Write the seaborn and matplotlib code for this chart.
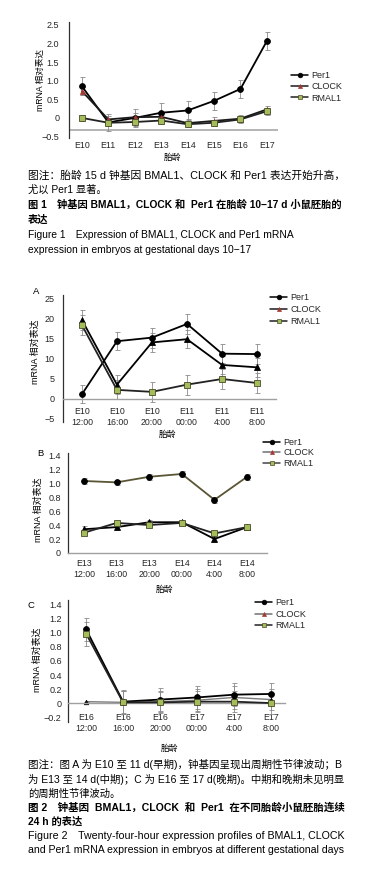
import numpy as np
import pandas as pd
import seaborn as sns
import matplotlib.pyplot as plt
from matplotlib.lines import Line2D

# ---- data ----
series = ['Per1', 'CLOCK', 'RMAL1']

days1 = ['E10', 'E11', 'E12', 'E13', 'E14', 'E15', 'E16', 'E17']
per1_1 = [0.85, -0.12, 0.0, 0.14, 0.20, 0.46, 0.78, 2.07]
clock_1 = [0.72, -0.04, 0.02, 0.03, -0.14, -0.08, -0.02, 0.23]
rmal1_1 = [0.0, -0.13, -0.11, -0.07, -0.17, -0.13, -0.04, 0.18]
per1_1_err = [0.24, 0.22, 0.25, 0.25, 0.25, 0.25, 0.25, 0.25]
clock_1_err = [0.1, 0.1, 0.1, 0.1, 0.1, 0.1, 0.1, 0.1]
rmal1_1_err = [0.08, 0.1, 0.1, 0.1, 0.08, 0.08, 0.1, 0.1]

labels_a = ['E10\n12:00', 'E10\n16:00', 'E10\n20:00', 'E11\n00:00', 'E11\n4:00', 'E11\n8:00']
per1_a = [1.1, 14.3, 15.2, 18.6, 11.2, 11.1]
clock_a = [19.6, 3.5, 14.0, 14.8, 8.4, 7.8]
rmal1_a = [18.3, 2.2, 1.7, 3.5, 4.9, 3.9]
per1_a_err = [2.2, 2.3, 2.5, 2.5, 2.4, 2.5]
clock_a_err = [2.4, 2.3, 2.3, 2.3, 2.3, 2.3]
rmal1_a_err = [2.5, 2.4, 2.4, 2.5, 2.5, 2.5]

labels_b = ['E13\n12:00', 'E13\n16:00', 'E13\n20:00', 'E14\n00:00', 'E14\n4:00', 'E14\n8:00']
per1_b = [1.03, 1.01, 1.09, 1.13, 0.76, 1.09]
clock_b = [0.34, 0.37, 0.44, 0.44, 0.20, 0.37]
rmal1_b = [0.29, 0.43, 0.40, 0.43, 0.28, 0.37]
per1_b_err = [0.04, 0.04, 0.04, 0.04, 0.04, 0.04]
clock_b_err = [0.04, 0.03, 0.03, 0.02, 0.03, 0.03]
rmal1_b_err = [0.02, 0.02, 0.02, 0.02, 0.02, 0.02]

labels_c = ['E16\n12:00', 'E16\n16:00', 'E16\n20:00', 'E17\n00:00', 'E17\n4:00', 'E17\n8:00']
per1_c = [1.05, 0.02, 0.05, 0.08, 0.12, 0.13]
clock_c = [0.02, 0.01, 0.02, 0.04, 0.08, 0.05]
rmal1_c = [0.99, 0.01, 0.01, 0.02, 0.02, 0.0]
per1_c_err = [0.16, 0.16, 0.16, 0.16, 0.16, 0.15]
clock_c_err = [0.0, 0.16, 0.15, 0.16, 0.16, 0.15]
rmal1_c_err = [0.17, 0.16, 0.15, 0.15, 0.15, 0.15]

# (text, weight, right edge of the justified line or None)
caption1 = [
    ('图注：胎龄 15 d 钟基因 BMAL1、CLOCK 和 Per1 表达开始升高，', 'normal', 343),
    ('尤以 Per1 显著。', 'normal', None),
    ('图 1　钟基因 BMAL1，CLOCK 和  Per1 在胎龄 10−17 d 小鼠胚胎的', 'bold', 340),
    ('表达', 'bold', None),
    ('Figure 1　Expression of BMAL1, CLOCK and Per1 mRNA', 'normal', None),
    ('expression in embryos at gestational days 10−17', 'normal', None),
]
caption2 = [
    ('图注：图 A 为 E10 至 11 d(早期)，钟基因呈现出周期性节律波动；B', 'normal', 343),
    ('为 E13 至 14 d(中期)；C 为 E16 至 17 d(晚期)。中期和晚期未见明显', 'normal', 343),
    ('的周期性节律波动。', 'normal', None),
    ('图 2　钟基因  BMAL1，CLOCK  和  Per1  在不同胎龄小鼠胚胎连续', 'bold', 343),
    ('24 h 的表达', 'bold', None),
    ('Figure 2　Twenty-four-hour expression profiles of BMAL1, CLOCK', 'normal', 343),
    ('and Per1 mRNA expression in embryos at different gestational days', 'normal', 345),
]

sns.set_theme(style='white')
fam = ['Liberation Sans', 'Noto Sans CJK SC', 'DejaVu Sans']
plt.rcParams['font.family'] = fam
plt.rcParams['axes.unicode_minus'] = True

W, H = 365, 874
fig = plt.figure(figsize=(W / 100, H / 100), dpi=100)
renderer = fig.canvas.get_renderer()


def add_ax(left, top, right, bottom):
    return fig.add_axes([left / W, 1 - bottom / H, (right - left) / W, (bottom - top) / H])


def ftext(x, y, s, **kw):
    kw.setdefault('va', 'center')
    kw.setdefault('ha', 'left')
    kw.setdefault('fontsize', 6.5)
    return fig.text(x / W, 1 - y / H, s, color='black', **kw)


def caption(lines, y0, step, base=7.4):
    y = y0
    for s, w, right in lines:
        t = ftext(28, y, s, fontweight=w, fontsize=base)
        if right is not None:
            width = t.get_window_extent(renderer).width
            t.set_fontsize(min(8.2, max(6.8, base * (right - 28) / width)))
        y += step


GREEN = '#a3bd5b'
RED = '#a33a32'


def draw(ax, vals, errs, styles):
    x = np.arange(len(vals[0]))
    for v, e, st in zip(vals, errs, styles):
        ax.errorbar(x, v, yerr=e, fmt='none', ecolor='#8a8a8a', elinewidth=0.6,
                    capsize=1.8, capthick=0.6, zorder=1)
        df = pd.DataFrame({'x': x, 'y': v})
        sns.lineplot(data=df, x='x', y='y', ax=ax, color=st['lc'], lw=st.get('lw', 1.3),
                     marker=st['m'], markersize=st['ms'], markerfacecolor=st['mfc'],
                     markeredgecolor=st['mec'], markeredgewidth=0.6, errorbar=None,
                     legend=False, zorder=st.get('z', 3))
    ax.set_xlabel('')
    ax.set_ylabel('')


def style_ax(ax, xlabels, yticks, yticklabels, ypad, xpad, base):
    for s in ['top', 'right']:
        ax.spines[s].set_visible(False)
    if base is not None:
        ax.spines['bottom'].set_position(('data', base))
    ax.spines['left'].set_color('#303030')
    ax.spines['left'].set_linewidth(0.9)
    ax.spines['bottom'].set_color('#a0a0a0')
    ax.spines['bottom'].set_linewidth(1.0)
    ax.set_xticks(np.arange(len(xlabels)))
    ax.set_xticklabels(xlabels, fontsize=6.3, linespacing=1.35)
    ax.set_yticks(yticks)
    ax.set_yticklabels(yticklabels, fontsize=6.5)
    ax.tick_params(axis='both', length=0)
    ax.tick_params(axis='y', pad=ypad)
    ax.tick_params(axis='x', pad=xpad)


def legend(ax, x, y, styles, spacing):
    hs = [Line2D([], [], color=st['lc'], lw=1.1, marker=st['m'], markersize=st['ms'] * 0.8,
                 markerfacecolor=st['mfc'], markeredgecolor=st['mec'], markeredgewidth=0.5)
          for st in styles]
    ax.legend(hs, series, loc='upper left', bbox_to_anchor=(x / W, 1 - y / H),
              bbox_transform=fig.transFigure, frameon=False, fontsize=6.5,
              handlelength=1.9, handletextpad=0.35, labelspacing=spacing,
              borderpad=0, borderaxespad=0)


per_st = dict(lc='black', m='o', ms=4.2, mfc='black', mec='black')
clk_red = dict(lc='#1a1a1a', m='^', ms=3.6, mfc=RED, mec=RED)
clk_blk = dict(lc='black', m='^', ms=3.8, mfc='black', mec='black')
rml_st = dict(lc='#222222', m='s', ms=3.8, mfc=GREEN, mec='#4a4a28')

# ---- Figure 1 ----
ax1 = add_ax(69, 22, 278, 138)
draw(ax1, [per1_1, clock_1, rmal1_1], [per1_1_err, clock_1_err, rmal1_1_err],
     [per_st, clk_red, rml_st])
ax1.set_xlim(-0.49, 7.42)
ax1.set_ylim(-0.54, 2.58)
style_ax(ax1, days1, [-0.5, 0, 0.5, 1.0, 1.5, 2.0, 2.5],
         ['−0.5', '0', '0.5', '1.0', '1.5', '2.0', '2.5'], 7, 2, None)
ax1.spines['bottom'].set_visible(False)
ax1.axhline(-0.33, color='#a0a0a0', lw=1.1, zorder=0)
legend(ax1, 291, 71, [per_st, clk_red, rml_st], 0.25)
ftext(40, 80, 'mRNA 相对表达', rotation=90, ha='center', fontsize=6.2)
ftext(173, 157, '胎龄', ha='center', fontsize=6.3)

caption(caption1, 175, 15.0)

# ---- Figure 2 A ----
axA = add_ax(63, 295, 276, 422)
draw(axA, [per1_a, clock_a, rmal1_a], [per1_a_err, clock_a_err, rmal1_a_err],
     [per_st, clk_blk, rml_st])
axA.set_xlim(-0.54, 5.54)
axA.set_ylim(-5.8, 25.8)
style_ax(axA, labels_a, [-5, 0, 5, 10, 15, 20, 25],
         ['−5', '0', '5', '10', '15', '20', '25'], 6, 6, 0)
legend(axA, 270, 293, [per_st, clk_red, rml_st], 0.35)
ftext(35, 352, 'mRNA 相对表达', rotation=90, ha='center')
ftext(33, 292, 'A', fontsize=6.8)
ftext(168, 434, '胎龄', ha='center', fontsize=6.3)

# ---- Figure 2 B ----
per_b = dict(per_st, lc='#5a5535')
leg_grey = dict(clk_red, lc='#707070')
axB = add_ax(68, 453, 267, 553)
draw(axB, [per1_b, clock_b, rmal1_b], [per1_b_err, clock_b_err, rmal1_b_err],
     [per_b, clk_blk, rml_st])
axB.set_xlim(-0.49, 5.61)
axB.set_ylim(0, 1.43)
style_ax(axB, labels_b, [0, 0.2, 0.4, 0.6, 0.8, 1.0, 1.2, 1.4],
         ['0', '0.2', '0.4', '0.6', '0.8', '1.0', '1.2', '1.4'], 5, 4, None)
legend(axB, 263, 438, [per_st, leg_grey, dict(rml_st, lc='#444444')], 0.15)
ftext(38, 510, 'mRNA 相对表达', rotation=90, ha='center')
ftext(37, 453, 'B', fontsize=6.8)
ftext(165, 589, '胎龄', ha='center', fontsize=6.3)

# ---- Figure 2 C ----
clk_c = dict(lc='#7a7a7a', m='^', ms=3.2, mfc='black', mec='black', lw=1.0, z=2)
axC = add_ax(68, 600, 285, 722)
draw(axC, [per1_c, clock_c, rmal1_c], [per1_c_err, clock_c_err, rmal1_c_err],
     [per_st, clk_c, rml_st])
axC.set_xlim(-0.49, 5.38)
axC.set_ylim(-0.27, 1.47)
style_ax(axC, labels_c, [-0.2, 0, 0.2, 0.4, 0.6, 0.8, 1.0, 1.2, 1.4],
         ['−0.2', '0', '0.2', '0.4', '0.6', '0.8', '1.0', '1.2', '1.4'], 4.5, 7, 0)
legend(axC, 255, 598, [per_st, leg_grey, rml_st], 0.3)
ftext(37, 660, 'mRNA 相对表达', rotation=90, ha='center')
ftext(27, 605, 'C', fontsize=6.8)
ftext(170, 748, '胎龄', ha='center', fontsize=6.3)

caption(caption2, 765, 14.2)

fig.savefig('out.png', dpi=100)
